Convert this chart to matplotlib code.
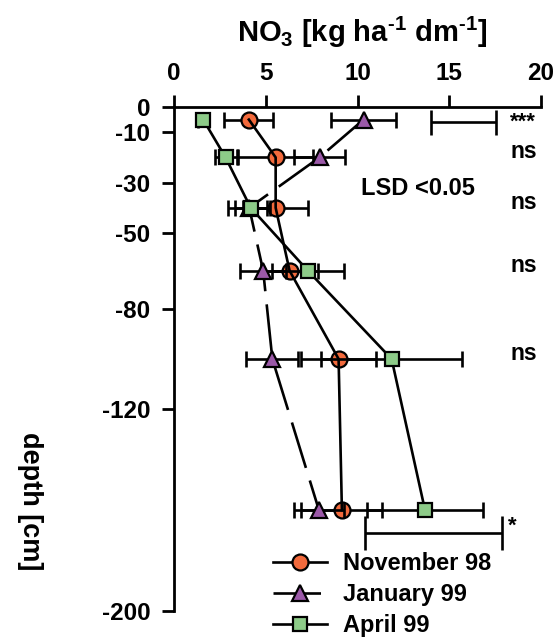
import matplotlib
matplotlib.use("Agg")
import matplotlib.pyplot as plt
from matplotlib.lines import Line2D

plt.rcParams['font.family'] = ['Liberation Sans', 'DejaVu Sans']
plt.rcParams['font.weight'] = 'bold'
plt.rcParams['axes.unicode_minus'] = False
plt.rcParams['mathtext.fontset'] = 'custom'
plt.rcParams['mathtext.rm'] = 'Liberation Sans:bold'
plt.rcParams['mathtext.bf'] = 'Liberation Sans:bold'
plt.rcParams['mathtext.it'] = 'Liberation Sans:bold'

# ---- data ----
depth = [-5, -20, -40, -65, -100, -160]
nov = [4.08, 5.54, 5.54, 6.30, 8.97, 9.15]
nov_err = [1.33, 2.05, 1.77, 1.54, 2.05, 2.21]
jan = [10.33, 7.93, 4.10, 4.86, 5.36, 7.90]
jan_err = [1.76, 1.40, 1.15, 1.24, 1.41, 1.36]
apr = [1.59, 2.81, 4.18, 7.30, 11.86, 13.68]
apr_err = [0.30, 0.60, 0.87, 1.94, 3.86, 3.17]

ytick_vals = [0, -10, -30, -50, -80, -120, -200]
xtick_vals = [0, 5, 10, 15, 20]

sig_labels = ['***', 'ns', 'ns', 'ns', 'ns', '*']
lsd_left = [14.0, 10.43]
lsd_right = [17.54, 17.9]
lsd_depth = [-6, -169]

series_names = ['November 98', 'January 99', 'April 99']

# ---- styling ----
c_nov = '#F26A3C'
c_jan = '#9B59A8'
c_apr = '#8DCB88'
lw = 1.9
mew = 1.6

fig = plt.figure(figsize=(5.6, 6.4), dpi=100)
ax = fig.add_axes([174/560, 1-611/640, (541-174)/560, (611-107)/640])

ax.set_xlim(0, 20)
ax.set_ylim(-200, 0)

eb_kw = dict(fmt='none', elinewidth=lw, capsize=5.5, capthick=lw, ecolor='black')

# November
ax.errorbar(nov, depth, xerr=nov_err, zorder=2, **eb_kw)
ax.plot(nov, depth, color='black', lw=lw, zorder=2.2)
ax.plot(nov, depth, ls='none', marker='o', ms=11.5, mfc=c_nov, mec='black',
        mew=mew, zorder=2.1)

# January
ax.errorbar(jan, depth, xerr=jan_err, zorder=3, **eb_kw)
ax.plot(jan, depth, color='black', lw=lw, dashes=(18, 5), zorder=3)
ax.plot(jan, depth, ls='none', marker='^', ms=11.5, mfc=c_jan, mec='black',
        mew=mew, zorder=4)

# April
ax.errorbar(apr, depth, xerr=apr_err, zorder=3, **eb_kw)
ax.plot(apr, depth, color='black', lw=lw, zorder=3)
ax.plot(apr, depth, ls='none', marker='s', ms=10, mfc=c_apr, mec='black',
        mew=mew, zorder=4)

# LSD bars
lsd_caps = [9, 12]
for l, r, d, cs in zip(lsd_left, lsd_right, lsd_depth, lsd_caps):
    ax.errorbar([(l + r) / 2], [d], xerr=[(r - l) / 2], fmt='none',
                elinewidth=lw, capsize=cs, capthick=lw, ecolor='black')

# significance labels
for lab, d in zip(sig_labels, depth):
    if lab == '*':
        ax.text(lsd_right[1] + 0.55, lsd_depth[1] + 2.5, lab, fontsize=16,
                ha='center', va='center', fontweight='bold', clip_on=False)
    elif lab == '***':
        ax.text(19.0, d - 1.0, lab, fontsize=16, ha='center', va='center',
                fontweight='bold', clip_on=False)
    else:
        ax.text(19.08, d + 2.3, lab, fontsize=16.5, ha='center', va='center',
                fontweight='bold', clip_on=False)

ax.text(13.3, -32.3, 'LSD <0.05', fontsize=17, ha='center', va='center',
        fontweight='bold')

# axes styling
for s in ['right', 'bottom']:
    ax.spines[s].set_visible(False)
for s in ['left', 'top']:
    ax.spines[s].set_linewidth(2.0)
ax.xaxis.tick_top()
ax.set_xticks(xtick_vals)
ax.set_xticklabels([str(v) for v in xtick_vals])
ax.set_yticks(ytick_vals)
ax.set_yticklabels([str(v) for v in ytick_vals])
ax.tick_params(axis='both', direction='out', length=9, width=2.0,
               labelsize=17.5)
ax.tick_params(axis='y', pad=8)
ax.tick_params(axis='x', pad=7)
for t in ax.get_xticklabels() + ax.get_yticklabels():
    t.set_fontweight('bold')

fig.text(362/560, 1-32/640,
         'NO$_{3}$ [kg ha$^{\u20101}$ dm$^{\u20101}$]', fontsize=21,
         fontweight='bold', ha='center', va='center')
fig.text(30/560, 1-501/640, 'depth [cm]', fontsize=19.5, fontweight='bold',
         rotation=270, ha='center', va='center')

# legend
handles = [
    Line2D([], [], color='black', lw=lw, marker='o', ms=11.5, mfc=c_nov,
           mec='black', mew=mew),
    Line2D([], [], color='black', lw=lw, dashes=(18, 5), marker='^', ms=11.5,
           mfc=c_jan, mec='black', mew=mew),
    Line2D([], [], color='black', lw=lw, marker='s', ms=10, mfc=c_apr,
           mec='black', mew=mew),
]
leg = fig.legend(handles, series_names, loc='upper left',
                 bbox_to_anchor=(273/560, 1-552/640), frameon=False,
                 borderpad=0, borderaxespad=0, handlelength=2.3,
                 handletextpad=0.65, labelspacing=0.34,
                 prop={'size': 17, 'weight': 'bold'})

fig.savefig('out.png', dpi=100)
